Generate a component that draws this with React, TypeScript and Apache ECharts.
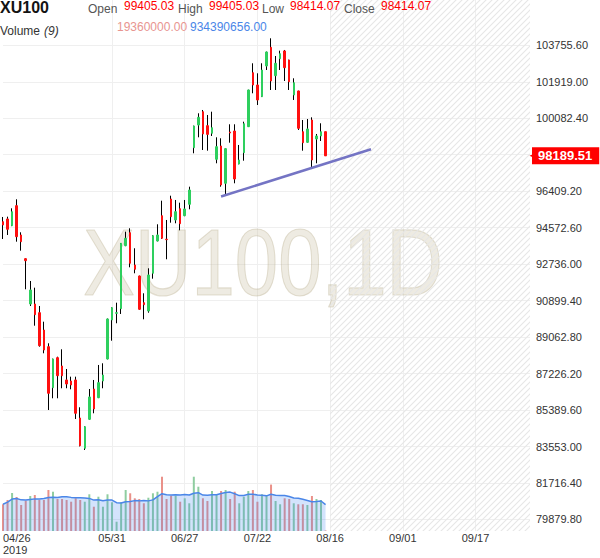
import React, { useEffect, useRef } from 'react';
import * as echarts from 'echarts';

// ---- data ----
const opens = [
  94874, 95010, 94672, 95680, 94204, 93011, 90730, 90730, 90292, 89421,
  88580, 86516, 88026, 87608, 86904, 86853, 86904, 84990, 83465, 84925,
  86450, 86012, 86853, 87961, 89925, 90262, 90494, 93666, 94320, 92694,
  92140, 90796, 90378, 92276, 93902, 95176, 93990, 96017, 94960, 95528,
  95176, 95750, 98600, 99743, 100412, 99708, 99325, 98016, 98685, 96807,
  99390, 99440, 97779, 98348, 99657, 102376, 101757, 101168, 102713, 103655,
  102225, 103081, 103469, 103016, 101253, 101455, 99405, 98872, 99994, 99038,
  99189, 99405.03,
];
const closes = [
  94708, 94491, 95377, 94119, 93867, 92910, 91435, 90191, 88630, 88414,
  86234, 87961, 87120, 87120, 86702, 86652, 85227, 83596, 84552, 86048,
  85443, 86768, 87155, 89975, 90544, 90292, 93786, 94038, 92779, 92477,
  90463, 90695, 92190, 94169, 94204, 94038, 93970, 95126, 95377, 94773,
  95513, 96470, 99692, 100130, 99290, 99270, 99607, 98650, 96722, 98550,
  99340, 97024, 97980, 99808, 101505, 101757, 101002, 102512, 103418, 101958,
  102849, 103333, 102628, 101923, 101872, 99577, 98851, 99541, 97980, 99189,
  99405, 98189.51,
];
const highs = [
  95111, 95126, 95548, 96002, 94340, 93030, 91888, 91551, 90629, 89839,
  88751, 87980, 88077, 88449, 87457, 87070, 87070, 85529, 84570, 86450,
  86904, 87659, 87744, 90000, 90560, 90796, 93800, 94370, 94542, 93535,
  92160, 91269, 92527, 94190, 94743, 95931, 94960, 96183, 95967, 95831,
  95967, 96636, 99710, 100332, 100498, 100246, 100412, 99123, 99073, 98570,
  99778, 99778, 98736, 99909, 101520, 102849, 102346, 102849, 103440, 104108,
  103217, 103484, 103520, 103030, 102094, 101470, 99994, 100045, 100130, 99290,
  99828, 99405.03,
];
const lows = [
  94003, 94204, 94650, 93867, 93414, 91470, 90629, 89637, 88580, 88248,
  85393, 85982, 85982, 86486, 86486, 86435, 84940, 83560, 83379, 84900,
  85227, 85990, 86486, 87940, 88882, 89759, 90227, 93640, 92578, 92276,
  90440, 89960, 90292, 92004, 93880, 94010, 92981, 94824, 94793, 94441,
  95150, 95498, 98318, 99123, 98484, 98449, 99189, 97814, 96636, 96183,
  98851, 96807, 97760, 97945, 99640, 101339, 100750, 101150, 102512, 101505,
  101505, 102512, 101958, 101505, 101002, 99491, 98449, 98850, 97628, 97814,
  98937, 98189.51,
];
// volume in millions
const volumes = [
  935, 1085, 1330, 1190, 910, 1060, 1225, 1260, 1085, 1085,
  1435, 1375, 1120, 1120, 1085, 1025, 1145, 1085, 1025, 1285,
  850, 1200, 850, 1285, 1005, 325, 1005, 1435, 1320, 1145,
  1120, 970, 1165, 1320, 1375, 1900, 1120, 1235, 1235, 1025,
  1145, 970, 1900, 1550, 1145, 1050, 1400, 1260, 1400, 1435,
  1120, 1375, 970, 1200, 1400, 1435, 1025, 1285, 1260, 1625,
  1050, 935, 1145, 1120, 970, 935, 935, 910, 1225, 1120,
  1085, 19.36,
];
const priceGridValues = [
  79879.8, 81716.4, 83553.0, 85389.6, 87226.2, 89062.8, 90899.4,
  92736.0, 94572.6, 96409.2, 98245.8, 100082.4, 101919.0, 103755.6,
];
const priceLabelValues = [
  79879.8, 81716.4, 83553.0, 85389.6, 87226.2, 89062.8, 90899.4,
  92736.0, 94572.6, 96409.2, 100082.4, 101919.0, 103755.6,
];
const tickIndex = [0, 24, 40, 56, 72, 88, 104];
const tickText = ['04/26\n2019', '05/31', '06/27', '07/22', '08/16', '09/01', '09/17'];
const slotCount = 117;
const futureStart = 72;
const trendStart: [number, number] = [48, 96140];
const trendEnd: [number, number] = [81, 98520];
const lastPrice = 98189.51;

const UP = '#2ecf5e';
const DOWN = '#ff1010';
const FONT = 'Liberation Sans, Arial, sans-serif';

function hatchImage(): string {
  const c = document.createElement('canvas');
  c.width = 6;
  c.height = 6;
  const g = c.getContext('2d');
  if (g) {
    g.strokeStyle = '#e6e6e6';
    g.lineWidth = 1.1;
    g.beginPath();
    g.moveTo(-1, 7); g.lineTo(7, -1);
    g.moveTo(-1, 1); g.lineTo(1, -1);
    g.moveTo(5, 7); g.lineTo(7, 5);
    g.stroke();
  }
  return c.toDataURL();
}

export default function App() {
  const ref = useRef<HTMLDivElement>(null);
  useEffect(() => {
    if (!ref.current) return;
    const chart = echarts.init(ref.current, null, { renderer: 'svg' });
    const slots = Array.from({ length: slotCount }, (_, i) => String(i));
    const wickData = opens.map((o, i) => [o, closes[i], lows[i], highs[i]]);
    const bodyData = opens.map((o, i) => [o, closes[i], Math.min(o, closes[i]), Math.max(o, closes[i])]);
    const volData = volumes.map((v, i) => ({
      value: v,
      itemStyle: { color: closes[i] >= opens[i] ? '#8fcda0' : '#ea9189' },
    }));
    const volMA = volumes.map((_, i) => {
      const w = volumes.slice(Math.max(0, i - 8), i + 1);
      return w.reduce((a, b) => a + b, 0) / w.length;
    });
    const hatch = hatchImage();

    const label = (text: string, x: number, y: number, color: string, extra: any = {}) => ({
      type: 'text',
      x,
      y,
      z: 100,
      style: {
        text,
        fill: color,
        fontSize: 12,
        fontFamily: FONT,
        verticalAlign: 'middle',
        align: 'left',
        ...extra,
      },
    });

    const option: any = {
      animation: false,
      backgroundColor: '#ffffff',
      grid: { left: 1, right: 70, top: 0, bottom: 27 },
      xAxis: {
        type: 'category',
        data: slots,
        boundaryGap: false,
        axisLine: { show: false },
        axisTick: { show: false },
        axisLabel: {
          interval: (i: number) => tickIndex.includes(i),
          formatter: (_v: string, i: number) => {
            const k = tickIndex.indexOf(i);
            return k >= 0 ? tickText[k] : '';
          },
          color: '#333',
          fontSize: 11,
          fontFamily: FONT,
          lineHeight: 12,
          margin: 1,
          alignMinLabel: 'left',
        },
        splitLine: {
          show: true,
          interval: (i: number) => i > 0 && tickIndex.includes(i),
          lineStyle: { color: '#efefef', width: 1 },
        },
      },
      yAxis: [
        {
          type: 'value',
          position: 'right',
          min: 79300,
          max: 106036,
          axisLine: { show: false },
          axisTick: { show: false, customValues: priceGridValues },
          axisLabel: {
            customValues: priceLabelValues,
            formatter: (v: number) => v.toFixed(2),
            color: '#333',
            fontSize: 11,
            fontFamily: FONT,
            margin: 6,
          },
          splitLine: { show: true, lineStyle: { color: '#efefef', width: 1 } },
        },
        {
          type: 'value',
          min: 0,
          max: 18585,
          show: false,
          splitLine: { show: false },
        },
      ],
      graphic: [
        {
          type: 'text',
          x: 263,
          y: 262,
          z: 1,
          scaleY: 1.2,
          silent: true,
          style: {
            text: 'XU100,1D',
            fontSize: 78,
            fontFamily: FONT,
            fill: 'rgba(200,188,158,0.3)',
            stroke: 'rgba(180,168,135,0.35)',
            lineWidth: 1,
            align: 'center',
            verticalAlign: 'middle',
          },
        },
        label('XU100', 0, 7.5, '#131313', { fontWeight: 'bold', fontSize: 16 }),
        label('Open', 88, 8.5, '#555'),
        label('99405.03', 124, 5.5, '#ff0000'),
        label('High', 178, 8.5, '#555'),
        label('99405.03', 209, 5.5, '#ff0000'),
        label('Low', 262, 8.5, '#555'),
        label('98414.07', 290, 5.5, '#ff0000'),
        label('Close', 344, 8.5, '#555'),
        label('98414.07', 381, 5.5, '#ff0000'),
        label('Volume', 0, 30.5, '#333'),
        label('(9)', 44, 30.5, '#333', { fontStyle: 'italic' }),
        label('19360000.00', 117, 27, '#e89590'),
        label('934390656.00', 190, 27, '#4a86e8'),
      ],
      series: [
        {
          type: 'bar',
          name: 'volume',
          yAxisIndex: 1,
          barWidth: 2,
          data: volData,
          silent: true,
        },
        {
          type: 'line',
          name: 'volMA',
          yAxisIndex: 1,
          data: volMA,
          symbol: 'none',
          lineStyle: { color: '#4a86e8', width: 1.5 },
          areaStyle: { color: 'rgba(66,133,244,0.33)' },
          silent: true,
        },
        {
          type: 'candlestick',
          name: 'wick',
          data: wickData,
          barWidth: 0.5,
          itemStyle: {
            color: '#000',
            color0: '#000',
            borderColor: '#000',
            borderColor0: '#000',
            borderWidth: 1,
          },
          silent: true,
          markArea: {
            silent: true,
            itemStyle: {
              color: { image: hatch, repeat: 'repeat', imageWidth: 6, imageHeight: 6 },
            },
            data: [[{ xAxis: futureStart }, { xAxis: slotCount - 1 }]],
          },
          markPoint: {
            silent: true,
            data: [
              {
                coord: [slotCount - 1, lastPrice],
                symbol: 'triangle',
                symbolSize: [8, 9],
                symbolRotate: 90,
                symbolOffset: [4, 0],
                itemStyle: { color: '#ff0000' },
                label: { show: false },
              },
            ],
          },
          markLine: {
            silent: true,
            symbol: ['none', 'none'],
            animation: false,
            data: [
              [
                { coord: trendStart, lineStyle: { color: '#7474c4', width: 2.5, type: 'solid' }, label: { show: false } },
                { coord: trendEnd },
              ],
              {
                yAxis: lastPrice,
                lineStyle: { color: 'rgba(0,0,0,0)', width: 0 },
                label: {
                  show: true,
                  position: 'end',
                  distance: 2,
                  formatter: lastPrice.toFixed(2),
                  backgroundColor: '#ff0000',
                  color: '#ffffff',
                  fontWeight: 'bold',
                  fontSize: 13,
                  fontFamily: FONT,
                  padding: [2, 7, 2, 6],
                },
              },
            ],
          },
        },
        {
          type: 'candlestick',
          name: 'body',
          data: bodyData,
          barWidth: 2,
          itemStyle: {
            color: UP,
            color0: DOWN,
            borderColor: UP,
            borderColor0: DOWN,
            borderWidth: 1,
          },
          silent: true,
        },
      ],
    };
    chart.setOption(option);
    return () => chart.dispose();
  }, []);
  return (
    <div
      ref={ref}
      style={{ width: 600, height: 558, position: 'fixed', left: 0, top: 0 }}
    />
  );
}
